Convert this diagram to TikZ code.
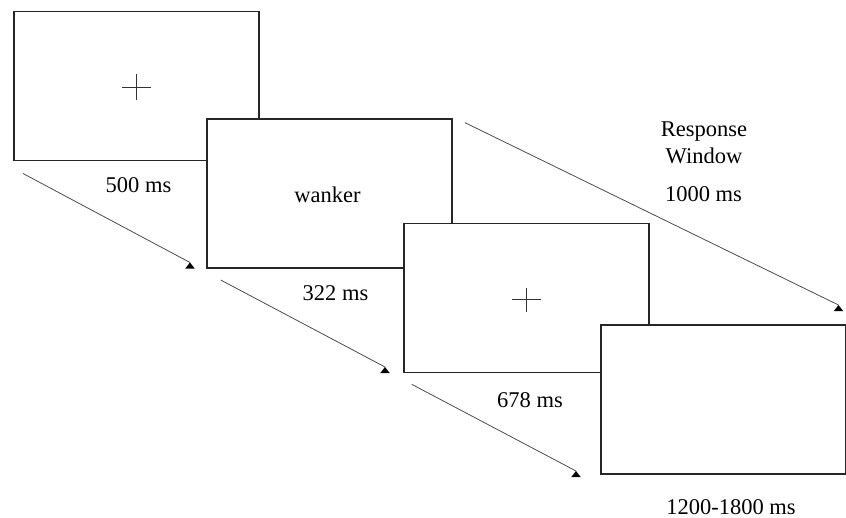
\documentclass[tikz,border=0pt]{standalone}
\usepackage{fontspec}
\setmainfont{Liberation Serif}
\usetikzlibrary{calc}
\begin{document}
\begin{tikzpicture}[x=1pt,y=-1pt,
  screen/.style={draw=black!85,line width=1.6pt,fill=white,minimum width=245pt,minimum height=149pt,inner sep=0pt},
  lbl/.style={font=\fontsize{22.5}{26}\selectfont,inner sep=0pt,anchor=base,text depth=0pt},
  flow/.style={draw=black!70,line width=0.8pt},
  tipfill/.style={fill=black},
  crossline/.style={draw=black!80,line width=0.9pt}]
\useasboundingbox (0,0) rectangle (846,518);
% screens
\node[screen] (b1) at (136.3,86.2) {};
\node[screen] (b2) at (329.5,193.5) {};
\node[screen] (b3) at (526.5,298) {};
\node[screen] (b4) at (723.7,399.5) {};
% fixation crosses
\draw[crossline] ($(b1.center)+(-14.5,1)$) -- ($(b1.center)+(14.5,1)$);
\draw[crossline] ($(b1.center)+(0,-12.5)$) -- ($(b1.center)+(0,14)$);
\draw[crossline] ($(b3.center)+(-14.5,1)$) -- ($(b3.center)+(14.5,1)$);
\draw[crossline] ($(b3.center)+(0,-10)$) -- ($(b3.center)+(0,14)$);
% texts
\node[lbl] (w) at (327.5,202.7) {wanker};
\node[lbl] (t1) at (138.5,193) {500 ms};
\node[lbl] (t2) at (335.5,301) {322 ms};
\node[lbl] (t3) at (530,407) {678 ms};
\node[lbl] (t4) at (731,514.5) {1200-1800 ms};
\node[lbl] (r1) at (704,136.5) {Response};
\node[lbl] (r2) at (704,164) {Window};
\node[lbl] (r3) at (703.5,202) {1000 ms};
% arrows
\coordinate (a1s) at (23,173.5);
\coordinate (a1e) at (190,262.5);
\coordinate (a2s) at (220.7,280);
\coordinate (a2e) at (385,367);
\coordinate (a3s) at (411.7,384.3);
\coordinate (a3e) at (576,471);
\coordinate (a4s) at (465,122.7);
\coordinate (a4e) at (838.5,305);
\foreach \s/\e in {a1s/a1e,a2s/a2e,a3s/a3e,a4s/a4e}{
  \draw[flow] (\s) -- (\e);
  \fill[tipfill] (\e) -- ++(-4.8,6.2) -- ++(9.6,0) -- cycle;
}
\end{tikzpicture}
\end{document}
